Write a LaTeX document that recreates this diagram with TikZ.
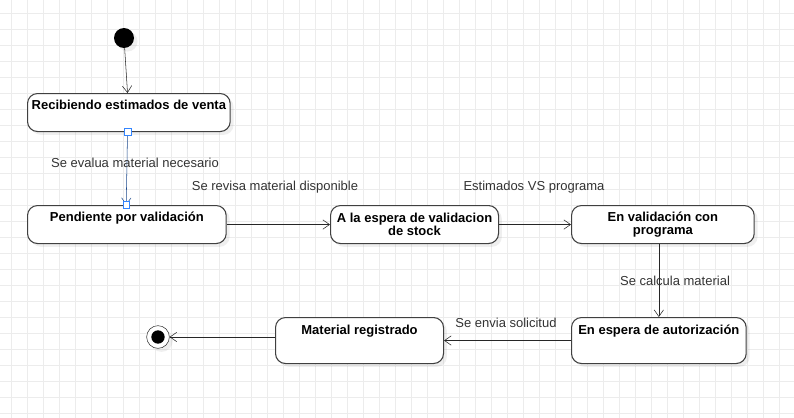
\documentclass[tikz,border=0pt]{standalone}
\usepackage{fontspec}
\setmainfont{Liberation Sans}
\usetikzlibrary{arrows.meta,shadows,scopes}
\definecolor{gridgray}{RGB}{236,236,236}
\definecolor{labelgray}{RGB}{51,51,51}
\definecolor{selblue}{RGB}{51,133,255}
\begin{document}
\begin{tikzpicture}[
    x=0.75pt,y=-0.75pt,
    state/.style={draw=black!75,fill=white,rounded corners=7.5pt,thick,font=\bfseries\fontsize{9.75}{10}\selectfont,
        align=center,anchor=north west,inner xsep=2pt,inner ysep=3pt,text height=7.5pt,
        drop shadow={opacity=0.12,shadow xshift=2.5pt,shadow yshift=-2.5pt}},
    trans/.style={draw=black!85,-{Straight Barb[length=5pt,width=7pt]}},
    lbl/.style={text=labelgray,font=\fontsize{9.75}{11}\selectfont,inner sep=0pt},
    handle/.style={draw=selblue,fill=white,minimum size=5pt,inner sep=0pt},
]
	\useasboundingbox (0,0) rectangle (794,418);
	\fill[white] (0,0) rectangle (794,418);
	{[draw=gridgray]
	\foreach \gx in {11.5,27.5,...,794} \draw (\gx,0)--(\gx,418); % vertical
	\foreach \gy in {13.5,29.5,...,418} \draw (0,\gy)--(794,\gy); % horizontal
	}
	% start and end
	\node (start) at (124,38) [circle,fill=black,minimum size=15pt,inner sep=0pt,drop shadow={opacity=0.12}] {};
	\node (finish) at (158,337) [circle,draw=black!80,fill=white,minimum size=17pt,inner sep=0pt,drop shadow={opacity=0.12}] {};
	\node (finishdot) at (finish) [circle,fill=black,minimum size=10pt,inner sep=0pt] {};
	% states
	\node (recibiendo) at (27,93) [state,minimum width=152pt,minimum height=28.5pt,text depth=12pt] {Recibiendo estimados de venta};
	\node (pendiente) at (27,205) [state,minimum width=149pt,minimum height=28.5pt,text depth=12pt] {Pendiente por validación};
	\node (espera) at (330,205) [state,minimum width=126pt,minimum height=28.5pt,text height=,text depth=] {A la espera de validacion\\de stock};
	\node (validacion) at (571,205) [state,minimum width=137pt,minimum height=28.5pt,text height=,text depth=] {En validación con\\programa};
	\node (autorizacion) at (571,317) [state,minimum width=131pt,minimum height=34.5pt,text depth=16pt] {En espera de autorización};
	\node (registrado) at (275,317) [state,minimum width=126pt,minimum height=34.5pt,text depth=16pt] {Material registrado};
	% transitions
	\draw[trans] (start) -- ([xshift=-1pt]recibiendo.north);
	\draw[trans,draw=selblue!55!black] ([xshift=-1pt]recibiendo.south) -- ([xshift=-0.5pt]pendiente.north);
	\node (handletop) at ([xshift=-1pt]recibiendo.south) [handle] {};
	\node (handlebot) at ([xshift=-0.5pt]pendiente.north) [handle] {};
	\draw[trans] (pendiente.east) -- (espera.west);
	\draw[trans] (espera.east) -- (validacion.west);
	\draw[trans] (validacion.south -| autorizacion.north) -- (autorizacion.north);
	\draw[trans] (autorizacion.west) -- (autorizacion.west -| registrado.east);
	\draw[trans] (registrado.west |- finish) -- (finish);
	% labels
	\node (evalua) at (135,163) [lbl] {Se evalua material necesario};
	\node (revisa) at (275,187) [lbl] {Se revisa material disponible};
	\node (estimados) at (534,187) [lbl] {Estimados VS programa};
	\node (calcula) at (675,281) [lbl] {Se calcula material};
	\node (envia) at (506,323) [lbl] {Se envia solicitud};
\end{tikzpicture}
\end{document}
